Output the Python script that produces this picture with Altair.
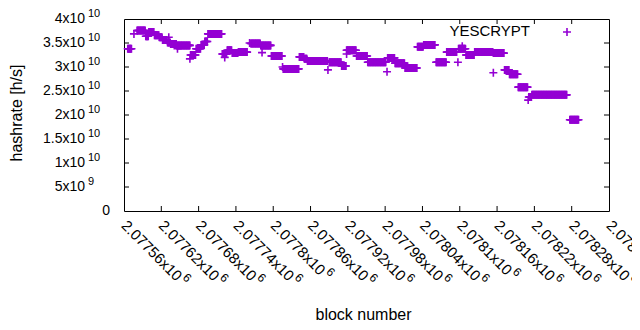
import altair as alt
import pandas as pd

# ---- data (runs of constant hashrate per block range) ----
seg_start = [2077566, 2077576, 2077581, 2077595, 2077600, 2077609, 2077617, 2077622, 2077630, 2077632,
             2077635, 2077645, 2077646, 2077667, 2077666, 2077676, 2077684, 2077690, 2077695, 2077718,
             2077722, 2077726, 2077734, 2077744, 2077762, 2077764, 2077780, 2077782, 2077797, 2077815,
             2077816, 2077842, 2077850, 2077855, 2077888, 2077890, 2077910, 2077918, 2077918, 2077934,
             2077952, 2077983, 2077984, 2077996, 2078012, 2078032, 2078042, 2078062, 2078079, 2078097,
             2078098, 2078104, 2078110, 2078124, 2078154, 2078154, 2078172, 2078180, 2078194, 2078210,
             2078211, 2078216, 2078277]
seg_end = [2077572, 2077576, 2077594, 2077599, 2077608, 2077616, 2077621, 2077629, 2077634, 2077632,
           2077644, 2077666, 2077646, 2077675, 2077666, 2077683, 2077689, 2077694, 2077717, 2077725,
           2077722, 2077733, 2077743, 2077758, 2077762, 2077779, 2077796, 2077782, 2077814, 2077815,
           2077841, 2077849, 2077854, 2077887, 2077888, 2077909, 2077917, 2077933, 2077918, 2077951,
           2077981, 2077983, 2077995, 2078011, 2078031, 2078041, 2078060, 2078078, 2078095, 2078097,
           2078109, 2078104, 2078123, 2078153, 2078171, 2078154, 2078179, 2078193, 2078209, 2078210,
           2078215, 2078272, 2078291]
seg_value = [3.38e10, 3.69e10, 3.76e10, 3.64e10, 3.73e10, 3.66e10, 3.62e10, 3.56e10, 3.51e10, 3.62e10,
             3.48e10, 3.45e10, 3.38e10, 3.25e10, 3.17e10, 3.38e10, 3.46e10, 3.53e10, 3.69e10, 3.27e10,
             3.20e10, 3.35e10, 3.29e10, 3.31e10, 3.50e10, 3.49e10, 3.45e10, 3.30e10, 3.23e10, 3.00e10,
             2.96e10, 3.21e10, 3.17e10, 3.125e10, 2.94e10, 3.10e10, 3.02e10, 3.35e10, 3.27e10, 3.23e10,
             3.10e10, 2.90e10, 3.19e10, 3.08e10, 2.98e10, 3.42e10, 3.46e10, 3.10e10, 3.31e10, 3.10e10,
             3.38e10, 3.43e10, 3.25e10, 3.31e10, 3.29e10, 2.88e10, 2.94e10, 2.85e10, 2.58e10, 2.31e10,
             2.375e10, 2.42e10, 1.90e10]

x_tick_values = [2077560, 2077620, 2077680, 2077740, 2077800, 2077860, 2077920,
                 2077980, 2078040, 2078100, 2078160, 2078220, 2078280, 2078340]
x_tick_base = ["2.07756x10", "2.07762x10", "2.07768x10", "2.07774x10", "2.0778x10", "2.07786x10",
               "2.07792x10", "2.07798x10", "2.07804x10", "2.0781x10", "2.07816x10", "2.07822x10",
               "2.07828x10", "2.07834x10"]
x_tick_exp = ["6"] * 14

y_tick_values = [0, 5e9, 1e10, 1.5e10, 2e10, 2.5e10, 3e10, 3.5e10, 4e10]
y_tick_base = ["0", "5x10", "1x10", "1.5x10", "2x10", "2.5x10", "3x10", "3.5x10", "4x10"]
y_tick_exp = ["", "9", "10", "10", "10", "10", "10", "10", "10"]

series_name = "YESCRYPT"
x_title = "block number"
y_title = "hashrate [h/s]"

# ---- tables ----
rows = []
for s, e, v in zip(seg_start, seg_end, seg_value):
    for b in range(s, e + 1):
        rows.append({"block": b, "hashrate": v})
pts = pd.DataFrame(rows)

xt = pd.DataFrame({"v": x_tick_values, "base": x_tick_base, "exp": x_tick_exp})
xt["long"] = xt["base"].str.len() >= 10
yt = pd.DataFrame({"v": y_tick_values, "base": y_tick_base, "exp": y_tick_exp})

W, H = 485, 192
FONT = "Liberation Sans"
PURPLE = "#9400D3"
PLUS = "M-1,0L1,0M0,-1L0,1"

xs = alt.Scale(domain=[2077560, 2078340], nice=False, zero=False)
ys = alt.Scale(domain=[0, 4e10], nice=False, zero=False)

X = lambda f: alt.X(f, type="quantitative", scale=xs, axis=None)
Y = lambda f: alt.Y(f, type="quantitative", scale=ys, axis=None)

points = alt.Chart(pts).mark_point(shape=PLUS, size=64, strokeWidth=1.6, filled=False,
                                   color=PURPLE, opacity=1).encode(x=X("block"), y=Y("hashrate"))

inner = xt[(xt.v > 2077560) & (xt.v < 2078340)]
xtick_b = alt.Chart(inner).mark_rule(color="black", strokeWidth=1).encode(
    x=X("v"), y=alt.value(H), y2=alt.value(H - 5))
xtick_t = alt.Chart(inner).mark_rule(color="black", strokeWidth=1).encode(
    x=X("v"), y=alt.value(0), y2=alt.value(5))
yin = yt[(yt.v > 0) & (yt.v < 4e10)]
ytick_l = alt.Chart(yin).mark_rule(color="black", strokeWidth=1).encode(
    y=Y("v"), x=alt.value(0), x2=alt.value(5))
ytick_r = alt.Chart(yin).mark_rule(color="black", strokeWidth=1).encode(
    y=Y("v"), x=alt.value(W), x2=alt.value(W - 5))

ylab_nonzero = yt[yt.v > 0]
ylab_base = alt.Chart(ylab_nonzero).mark_text(align="right", baseline="middle", font=FONT,
                                             fontSize=14, color="black").encode(
    y=Y("v"), x=alt.value(-39), text="base:N")
ylab_exp = alt.Chart(ylab_nonzero).mark_text(align="left", baseline="middle", font=FONT,
                                            fontSize=11, color="black", dy=-5).encode(
    y=Y("v"), x=alt.value(-36), text="exp:N")
ylab_zero = alt.Chart(yt[yt.v == 0]).mark_text(align="right", baseline="middle", font=FONT,
                                              fontSize=14, color="black").encode(
    y=Y("v"), x=alt.value(-14), text="base:N")

xlab_base = alt.Chart(xt).mark_text(align="left", baseline="middle", angle=45, font=FONT,
                                    fontSize=15, color="black").encode(
    x=X("v"), y=alt.value(H + 12), text="base:N")
xlab_exp_long = alt.Chart(xt[xt.long]).mark_text(align="left", baseline="middle", angle=45, font=FONT,
                                                 fontSize=12, color="black", dx=80, dy=-6).encode(
    x=X("v"), y=alt.value(H + 12), text="exp:N")
xlab_exp_short = alt.Chart(xt[~xt.long]).mark_text(align="left", baseline="middle", angle=45, font=FONT,
                                                   fontSize=12, color="black", dx=72, dy=-6).encode(
    x=X("v"), y=alt.value(H + 12), text="exp:N")

one = pd.DataFrame({"t": [series_name]})
legend_text = alt.Chart(one).mark_text(align="right", baseline="middle", font=FONT, fontSize=15,
                                       color="black").encode(
    x=alt.value(406), y=alt.value(12), text="t:N")
legend_sym = alt.Chart(one).mark_point(shape=PLUS, size=64, strokeWidth=1.6, filled=False,
                                       color=PURPLE, opacity=1).encode(
    x=alt.value(443), y=alt.value(13))

xt_df = pd.DataFrame({"t": [x_title]})
yt_df = pd.DataFrame({"t": [y_title]})
x_title_mark = alt.Chart(xt_df).mark_text(align="center", baseline="middle", font=FONT, fontSize=16,
                                          color="black").encode(
    x=alt.value(W / 2 - 3), y=alt.value(H + 104), text="t:N")
y_title_mark = alt.Chart(yt_df).mark_text(align="center", baseline="middle", font=FONT, fontSize=16,
                                          color="black", angle=270).encode(
    x=alt.value(-107), y=alt.value(H / 2 - 2), text="t:N")

chart = alt.layer(
    points, xtick_b, xtick_t, ytick_l, ytick_r,
    ylab_base, ylab_exp, ylab_zero, xlab_base, xlab_exp_long, xlab_exp_short,
    legend_text, legend_sym, x_title_mark, y_title_mark
).properties(
    width=W, height=H,
    padding={"left": 116, "top": 11, "right": 23, "bottom": 111},
    autosize=alt.AutoSizeParams(type="none"),
    background="white",
).configure_view(stroke="black", strokeWidth=1)

chart.save("out.html", embed_options={"renderer": "svg", "actions": False})
